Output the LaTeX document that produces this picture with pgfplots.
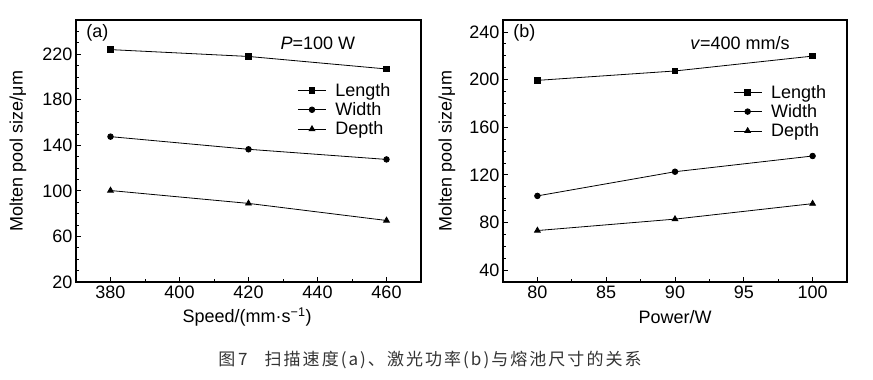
\documentclass[border=0pt]{standalone}
\usepackage{fontspec}
\setmainfont{Liberation Sans}
\newfontfamily\cjk[LetterSpace=12]{Noto Sans CJK SC}
\usepackage{pgfplots}
\pgfplotsset{compat=1.18}
\begin{document}
\begin{tikzpicture}
\path[use as bounding box] (0pt,0pt) rectangle (873pt,380pt);
\pgfplotsset{
  myax/.style={
    scale only axis, width=345pt, height=262pt, anchor=south west,
    axis line style={line width=1.1pt},
    tick align=inside, tick pos=left,
    major tick length=5pt, minor tick length=3pt,
    every tick/.style={line width=0.8pt, black},
    /pgf/number format/assume math mode=true,
    font=\fontsize{18}{21}\selectfont,
    ylabel={Molten pool size/μm},
    legend style={draw=none, fill=none, font=\fontsize{18}{21}\selectfont,
      anchor=north west, row sep=0.8pt, cells={anchor=west},
      /tikz/every odd column/.append style={column sep=7pt}},
    legend image code/.code={\draw[mark repeat=2,mark phase=2] plot coordinates {(0pt,0pt) (14pt,0pt) (28pt,0pt)};},
    every axis plot/.append style={black, line width=0.8pt},
  }
}
% Panel (a)
\begin{axis}[myax, at={(76pt,98pt)},
  xmin=370, xmax=470, ymin=20, ymax=250,
  xtick={380,400,...,460}, minor xtick={370,390,...,470},
  ytick={20,60,...,220}, minor ytick={30,40,...,250},
  xlabel={Speed/(mm·s\textsuperscript{−1})},
  every axis x label/.style={at={(axis description cs:0.496,-0.134)}, anchor=center},
  every axis y label/.style={at={(axis description cs:-0.168,0.5)}, rotate=90, anchor=center},
  legend style={at={(axis description cs:0.633,0.775)}},
]
\addplot[mark=square*, mark size=2.8pt] coordinates {(380,224) (420,218) (460,207)};
\addlegendentry{Length}
\addplot[mark=*, mark size=2.8pt] coordinates {(380,147.6) (420,136.5) (460,127.6)};
\addlegendentry{Width}
\addplot[mark=triangle*, mark size=3.3pt] coordinates {(380,100.3) (420,89) (460,74)};
\addlegendentry{Depth}
\node[anchor=west] at (axis description cs:0.02,0.95) {(a)};
\node[anchor=center] at (axis description cs:0.701,0.912) {\textit{P}=100 W};
\end{axis}
% Panel (b)
\begin{axis}[myax, at={(503pt,98pt)}, width=344pt,
  xmin=77.5, xmax=102.5, ymin=30, ymax=250,
  xtick={80,85,...,100}, minor xtick={77.5,82.5,...,102.5},
  ytick={40,80,...,240}, minor ytick={30,40,...,250},
  xlabel={Power/W},
  every axis x label/.style={at={(axis description cs:0.5,-0.134)}, anchor=center},
  every axis y label/.style={at={(axis description cs:-0.163,0.5)}, rotate=90, anchor=center},
  legend style={at={(axis description cs:0.66,0.768)}},
]
\addplot[mark=square*, mark size=2.8pt] coordinates {(80,199.3) (90,207.2) (100,219.7)};
\addlegendentry{Length}
\addplot[mark=*, mark size=2.8pt] coordinates {(80,102.3) (90,122.6) (100,135.8)};
\addlegendentry{Width}
\addplot[mark=triangle*, mark size=3.3pt] coordinates {(80,73.2) (90,82.8) (100,95.8)};
\addlegendentry{Depth}
\node[anchor=west] at (axis description cs:0.02,0.95) {(b)};
\node[anchor=center] at (axis description cs:0.689,0.912) {\textit{v}=400 mm/s};
\end{axis}
\node[font=\cjk\fontsize{17}{20}\selectfont, text=black!80] at (430pt,20pt) {图\,7\quad 扫描速度(a)、激光功率(b)与熔池尺寸的关系};
\end{tikzpicture}
\end{document}
